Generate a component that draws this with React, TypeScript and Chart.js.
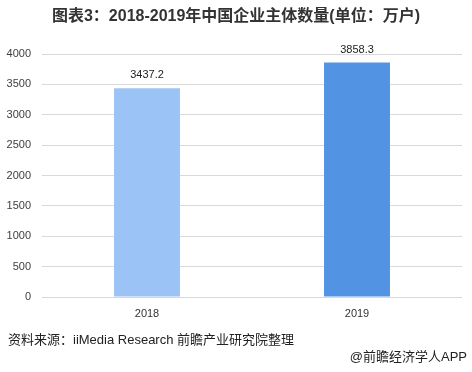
import React, { useEffect, useRef } from "react";
import { Chart, registerables } from "chart.js";

Chart.register(...registerables);

const categories = ["2018", "2019"];
const values = [3437.2, 3858.3];
const barColors = ["#9cc3f5", "#5393e4"];
const yTicks = [0, 500, 1000, 1500, 2000, 2500, 3000, 3500, 4000];

const titleText = "图表3：2018-2019年中国企业主体数量(单位：万户)";
const sourceText = "资料来源：iiMedia Research 前瞻产业研究院整理";
const creditText = "@前瞻经济学人APP";

const valueLabelPlugin = {
  id: "valueLabels",
  afterDatasetsDraw(chart: any) {
    const ctx = chart.ctx;
    const meta = chart.getDatasetMeta(0);
    ctx.save();
    ctx.font = "11px 'Liberation Sans', Arial, sans-serif";
    ctx.fillStyle = "#222222";
    ctx.textAlign = "center";
    ctx.textBaseline = "middle";
    meta.data.forEach((bar: any, i: number) => {
      ctx.fillText(values[i].toFixed(1), bar.x, bar.y - 13);
    });
    ctx.restore();
  },
};

export default function App() {
  const ref = useRef<HTMLCanvasElement | null>(null);

  useEffect(() => {
    if (!ref.current) return;
    const chart = new Chart(ref.current, {
      type: "bar",
      data: {
        labels: categories,
        datasets: [
          {
            data: values,
            backgroundColor: barColors,
            barPercentage: 0.314,
            categoryPercentage: 1,
          },
        ],
      },
      options: {
        animation: false,
        responsive: false,
        layout: { padding: { top: 54, right: 10, bottom: 0, left: 0 } },
        plugins: {
          legend: { display: false },
          tooltip: { enabled: false },
        },
        scales: {
          x: {
            grid: { display: false, drawTicks: false },
            border: { display: false },
            ticks: {
              padding: 10,
              color: "#333333",
              font: { family: "'Liberation Sans', Arial, sans-serif", size: 11 },
            },
            afterFit: (s: any) => {
              s.height = 75;
            },
          },
          y: {
            min: 0,
            max: 4000,
            afterBuildTicks: (s: any) => {
              s.ticks = yTicks.map((v) => ({ value: v }));
            },
            grid: { color: "#d9d9d9", drawTicks: false, lineWidth: 1 },
            border: { display: false },
            ticks: {
              padding: 11,
              color: "#404040",
              font: { family: "'Liberation Sans', Arial, sans-serif", size: 11 },
              callback: (v: any) => String(v),
            },
            afterFit: (s: any) => {
              s.width = 42;
            },
          },
        },
      },
      plugins: [valueLabelPlugin],
    });
    return () => chart.destroy();
  }, []);

  return (
    <div style={{ position: "absolute", left: 0, top: 0, width: 472, height: 372, background: "#ffffff", overflow: "hidden" }}>
      <canvas ref={ref} width={472} height={372} style={{ position: "absolute", left: 0, top: 0, width: 472, height: 372 }} />
      <div
        style={{
          position: "absolute",
          left: 0,
          top: 6,
          width: 472,
          textAlign: "center",
          fontFamily: "'Liberation Sans', 'Noto Sans CJK SC', sans-serif",
          fontWeight: "bold",
          fontSize: 16,
          lineHeight: "20px",
          color: "#333333",
          whiteSpace: "nowrap",
        }}
      >
        {titleText}
      </div>
      <div
        style={{
          position: "absolute",
          left: 8,
          top: 331,
          fontFamily: "'Liberation Sans', 'Noto Sans CJK SC', sans-serif",
          fontSize: 13,
          lineHeight: "18px",
          color: "#222222",
          whiteSpace: "nowrap",
        }}
      >
        {sourceText}
      </div>
      <div
        style={{
          position: "absolute",
          right: 5,
          top: 348,
          fontFamily: "'Liberation Sans', 'Noto Sans CJK SC', sans-serif",
          fontSize: 13,
          lineHeight: "18px",
          color: "#222222",
          whiteSpace: "nowrap",
        }}
      >
        {creditText}
      </div>
    </div>
  );
}
